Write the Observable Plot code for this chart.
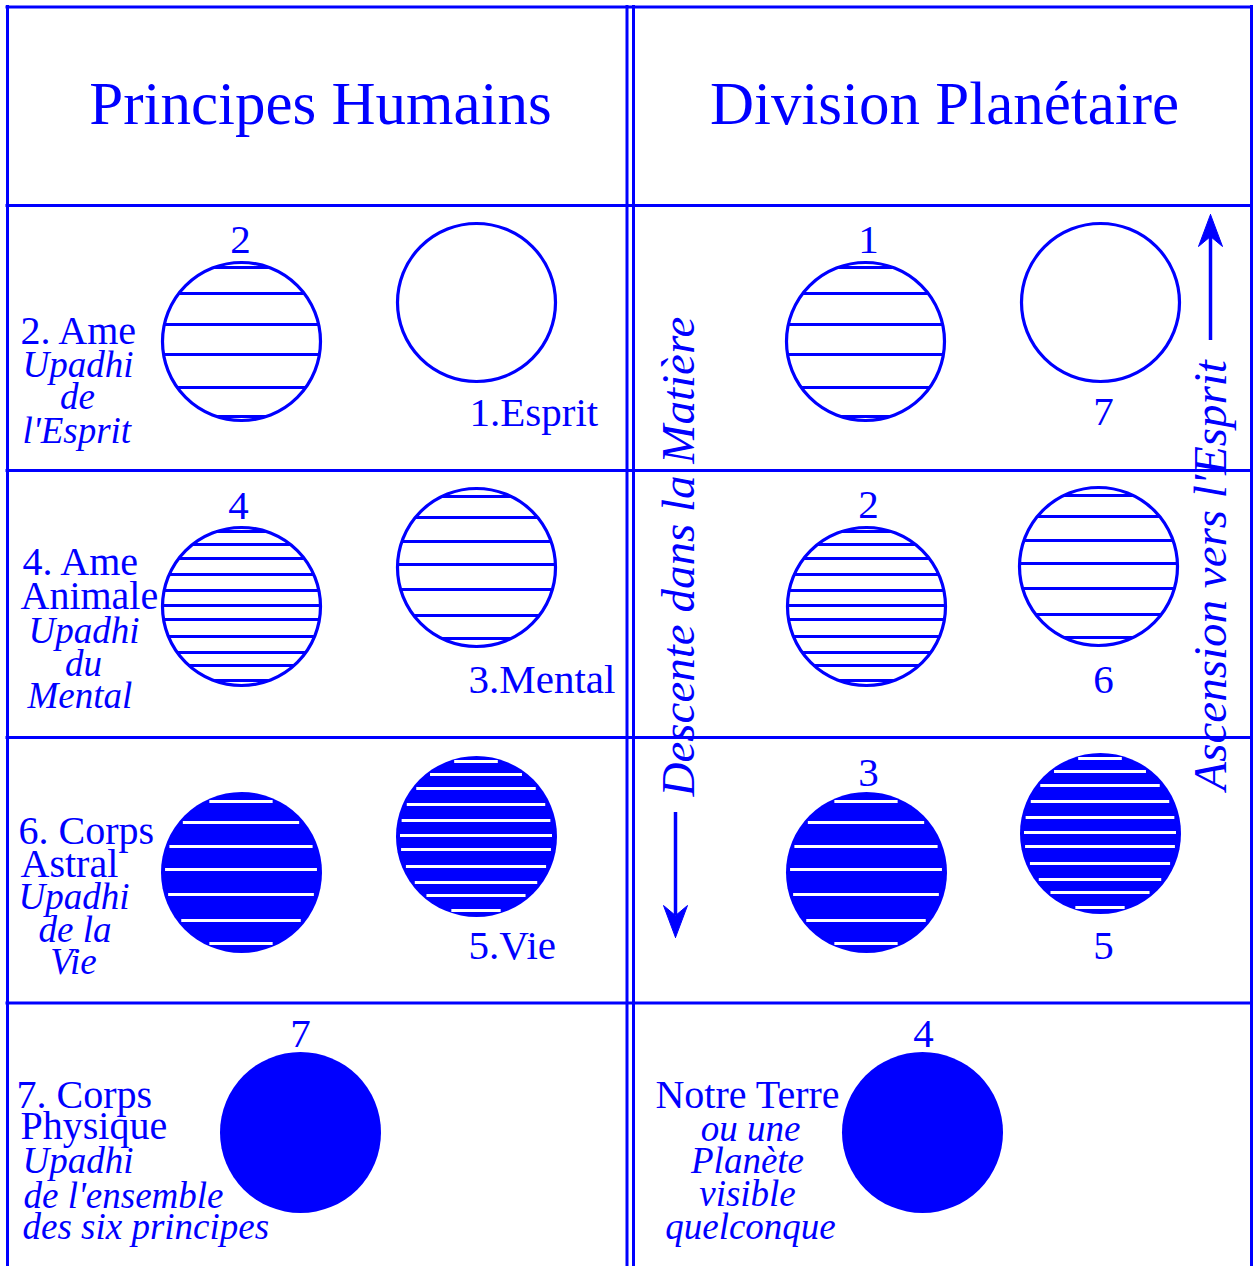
<!DOCTYPE html>
<html><head><meta charset="utf-8">
<script src="https://cdn.jsdelivr.net/npm/d3@7"></script>
<script src="https://cdn.jsdelivr.net/npm/@observablehq/plot@0.6"></script>
<style>html,body{margin:0;padding:0;background:#fff}</style>
</head><body><div id="chart"></div>
<script>
// ---------------- DATA ----------------
const columnTitles = ["Principes Humains", "Division Planétaire"];

// stripe offsets (from centre)
const stripesSparse = [-74, -48, -17, 13, 46, 75];
const stripesMedium = [-71, -50, -26, -3, 22, 48, 71];
const stripesDense  = [-75, -62, -48, -32, -16, -1, 13, 30, 46, 59, 74];

// seven circles per column: pattern and whether the disc is filled
const circlePatterns = ["sparse", "empty", "dense", "medium", "medium", "dense", "solid"];
const circleFilled   = [false, false, false, false, true, true, true];
const humanTags      = ["2", "1.Esprit", "4", "3.Mental", "", "5.Vie", "7"];
const planetTags     = ["1", "7", "2", "6", "3", "5", "4"];

const ameLines      = ["2. Ame", "Upadhi", "de", "l'Esprit"];
const animaleLines  = ["4. Ame", "Animale", "Upadhi", "du", "Mental"];
const astralLines   = ["6. Corps", "Astral", "Upadhi", "de la", "Vie"];
const physiqueLines = ["7. Corps", "Physique", "Upadhi", "de l'ensemble", "des six principes"];
const terreLines    = ["Notre Terre", "ou une", "Planète", "visible", "quelconque"];

const descentText = "Descente dans la Matière";
const ascentText  = "Ascension vers l'Esprit";

// ---------------- LAYOUT ----------------
const W = 1253, H = 1266;
const BLUE = "#0000ff";
const SERIF = "'Liberation Serif', 'Times New Roman', serif";
const R = 79;

const rowLines = [6.5, 205, 470, 737, 1002.5];
const colLines = [7, 626.5, 633, 1251];

const spotsLeft  = [[241,341],[476,302],[241,606],[476,567],[241,872],[476,836],[300,1132]];
const spotsRight = [[865,341],[1100,302],[866,606],[1098,566],[866,872],[1100,833],[922,1132]];
const tagLeft  = [[240,252,"middle"],[469,425,"start"],[238,518,"middle"],[468,692,"start"],[0,0,"middle"],[468,958,"start"],[300,1046,"middle"]];
const tagRight = [[868,252,"middle"],[1103,424,"middle"],[868,517,"middle"],[1103,692,"middle"],[868,785,"middle"],[1103,958,"middle"],[923,1046,"middle"]];

const patterns = {sparse: stripesSparse, medium: stripesMedium, dense: stripesDense, empty: [], solid: []};

const circles = [];
const tags = [];
[[spotsLeft, humanTags, tagLeft], [spotsRight, planetTags, tagRight]].forEach(([spots, tg, tp]) => {
  spots.forEach(([cx, cy], i) => {
    circles.push({cx, cy, pattern: circlePatterns[i], filled: circleFilled[i]});
    if (tg[i]) tags.push({x: tp[i][0], y: tp[i][1], anchor: tp[i][2], text: tg[i]});
  });
});

const stripes = [];
circles.forEach(c => {
  patterns[c.pattern].forEach(dy => {
    const half = Math.sqrt(Math.max(0, R * R - dy * dy)) - (c.filled ? 3 : 0);
    stripes.push({x1: c.cx - half, x2: c.cx + half, y: c.cy + dy, filled: c.filled});
  });
});

// label blocks: [lines, positions [x, baseline, anchor, italic]]
const labelSpec = [
  [ameLines,      [[20,343,"start",0],[22,376,"start",1],[77,408,"middle",1],[22,442,"start",1]]],
  [animaleLines,  [[22,574,"start",0],[20,608,"start",0],[28,642,"start",1],[83,675,"middle",1],[27,707,"start",1]]],
  [astralLines,   [[18,843,"start",0],[20,876,"start",0],[18,908,"start",1],[38,941,"start",1],[73,973,"middle",1]]],
  [physiqueLines, [[16,1107,"start",0],[20,1138,"start",0],[22,1172,"start",1],[23,1207,"start",1],[22,1238,"start",1]]],
  [terreLines,    [[747,1107,"middle",0],[750,1140,"middle",1],[747,1172,"middle",1],[747,1205,"middle",1],[750,1238,"middle",1]]]
];
const labels = [];
labelSpec.forEach(([lines, pos]) => lines.forEach((t, i) => labels.push({text: t, x: pos[i][0], y: pos[i][1], anchor: pos[i][2], italic: !!pos[i][3]})));

const titleRows = columnTitles.map((t, i) => ({text: t, x: [320, 944][i], y: 123}));

// arrows
const shafts = [{x: 675, y1: 812, y2: 915}, {x: 1210, y1: 236, y2: 340}];
const heads = [];
[[675, 937, 1], [1210, 214, -1]].forEach(([x, tip, dir], k) => {
  const L = 32, Wd = 12, notch = 22;
  [[x, tip], [x - Wd, tip - dir * L], [x, tip - dir * notch], [x + Wd, tip - dir * L], [x, tip]]
    .forEach(([px, py]) => heads.push({x: px, y: py, id: k}));
});

function textMarks(rows, size, italic) {
  return ["start", "middle", "end"].map(a => Plot.text(rows.filter(d => d.anchor === a), {
    x: "x", y: "y", text: "text", textAnchor: a, lineAnchor: "bottom",
    fontSize: size, fontStyle: italic ? "italic" : "normal", fontFamily: SERIF, fill: BLUE
  }));
}

const chart = Plot.plot({
  width: W, height: H,
  margin: 0,
  x: {domain: [0, W], range: [0, W], axis: null},
  y: {domain: [0, H], range: [0, H], axis: null},
  style: {background: "white"},
  marks: [
    // grid
    Plot.ruleY(rowLines, {y: d => d, x1: 5.5, x2: 1252.5, stroke: BLUE, strokeWidth: 3}),
    Plot.ruleX(colLines, {x: d => d, y1: 5, y2: H, stroke: BLUE, strokeWidth: 3}),
    // titles
    Plot.text(titleRows, {x: "x", y: "y", text: "text", textAnchor: "middle", lineAnchor: "bottom",
      fontSize: 61, fontFamily: SERIF, fill: BLUE}),
    // discs
    Plot.dot(circles.filter(c => c.filled), {x: "cx", y: "cy", r: R + 1.5, fill: BLUE, stroke: "none"}),
    Plot.ruleY(stripes.filter(s => !s.filled), {y: "y", x1: "x1", x2: "x2", stroke: BLUE, strokeWidth: 3}),
    Plot.ruleY(stripes.filter(s => s.filled), {y: "y", x1: "x1", x2: "x2", stroke: "white", strokeWidth: 2.8}),
    Plot.dot(circles.filter(c => !c.filled), {x: "cx", y: "cy", r: R, fill: "none", stroke: BLUE, strokeWidth: 3.2}),
    // tags and labels
    ...textMarks(tags, 41, false),
    ...textMarks(labels.filter(d => !d.italic), 40, false),
    ...textMarks(labels.filter(d => d.italic), 37, true),
    // vertical texts
    Plot.text([{x: 693, y: 796, text: descentText}, {x: 1225, y: 790, text: ascentText}], {
      x: "x", y: "y", text: "text", rotate: -90, textAnchor: "start", lineAnchor: "bottom",
      fontSize: 47, fontStyle: "italic", fontFamily: SERIF, fill: BLUE
    }),
    // arrows
    Plot.ruleX(shafts, {x: "x", y1: "y1", y2: "y2", stroke: BLUE, strokeWidth: 3.5}),
    Plot.line(heads, {x: "x", y: "y", z: "id", fill: BLUE, stroke: BLUE, strokeWidth: 1})
  ]
});
document.getElementById("chart").appendChild(chart);
</script>
</body></html>
